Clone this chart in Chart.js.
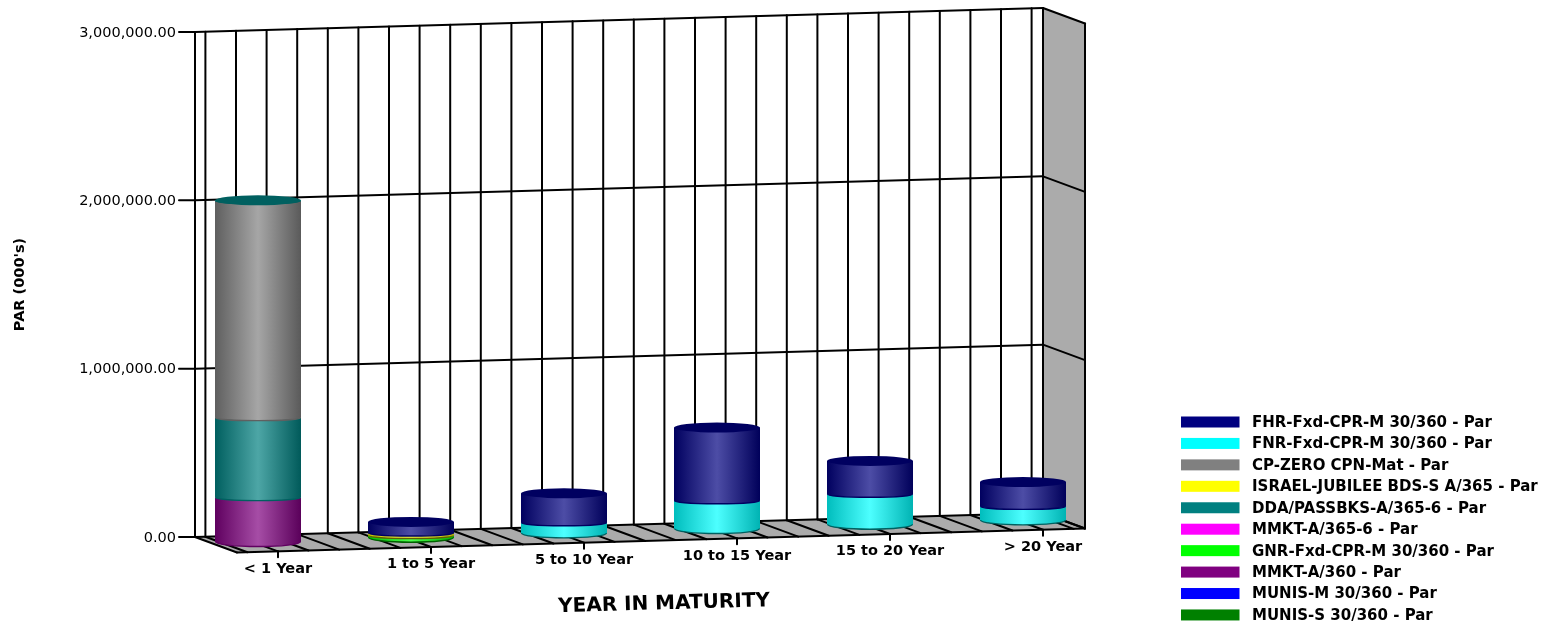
<!DOCTYPE html>
<html>
<head>
<meta charset="utf-8">
<title>PAR by year in maturity</title>
<script src="https://cdn.jsdelivr.net/npm/chart.js@4/dist/chart.umd.min.js"></script>
<style>
    html, body { margin: 0; padding: 0; background: #fff; }
    canvas { display: block; }
</style>
</head>
<body>
<canvas id="parChart" width="1541" height="625"></canvas>
<script>
    // data, stacked bottom to top (the legend lists them the other way round)
    const categories = ["< 1 Year", "1 to 5 Year", "5 to 10 Year", "10 to 15 Year", "15 to 20 Year", "> 20 Year"];
    const seriesNames = [
        "MUNIS-S 30/360 - Par", "MUNIS-M 30/360 - Par", "MMKT-A/360 - Par", "GNR-Fxd-CPR-M 30/360 - Par",
        "MMKT-A/365-6 - Par", "DDA/PASSBKS-A/365-6 - Par", "ISRAEL-JUBILEE BDS-S A/365 - Par",
        "CP-ZERO CPN-Mat - Par", "FNR-Fxd-CPR-M 30/360 - Par", "FHR-Fxd-CPR-M 30/360 - Par"
    ];
    const seriesColors = ["#008000", "#0000FF", "#800080", "#00FF00", "#FF00FF", "#008080", "#FFFF00", "#808080", "#00FFFF", "#000080"];
    const munisS = [0, 0, 0, 0, 0, 0];
    const munisM = [0, 0, 0, 0, 0, 0];
    const mmkt360 = [261000, 0, 0, 0, 0, 0];
    const gnr = [0, 10000, 0, 0, 0, 0];
    const mmkt365 = [0, 0, 0, 0, 0, 0];
    const dda = [475000, 0, 0, 0, 0, 0];
    const israel = [0, 15000, 0, 0, 0, 0];
    const cpZero = [1289000, 0, 0, 0, 0, 0];
    const fnr = [2000, 0, 60000, 165000, 178000, 80000];
    const fhr = [0, 66000, 175000, 435000, 198000, 145000];
    const seriesValues = [munisS, munisM, mmkt360, gnr, mmkt365, dda, israel, cpZero, fnr, fhr];
    const yTicks = [0, 1000000, 2000000, 3000000];

    const FONT = '"DejaVu Sans", sans-serif';

    // 3d box look: back wall leans up to the right, floor comes forward by depth
    const wallLeft = 195, wallRight = 1043;
    const slope = 24 / 848;
    const depthX = 42, depthY = 15.5;
    const midX = 22, midY = 5.7;

    function wallY(x, y) {
        return y - (x - wallLeft) * slope;
    }

    function shade(hex, f, white) {
        let c = [1, 3, 5].map(i => parseInt(hex.substr(i, 2), 16));
        c = c.map(v => Math.round(v * f + (255 - v * f) * white));
        return `rgb(${c[0]},${c[1]},${c[2]})`;
    }

    function topColor(hex) {
        let c = [1, 3, 5].map(i => parseInt(hex.substr(i, 2), 16));
        let k = 96 / Math.max(...c);
        return `rgb(${c.map(v => Math.round(v * k)).join(",")})`;
    }

    function line(ctx, x1, y1, x2, y2) {
        ctx.beginPath();
        ctx.moveTo(x1, y1);
        ctx.lineTo(x2, y2);
        ctx.stroke();
    }

    function drawCylinder(ctx, cx, yTop, yBase, rx, color, isLowest, isHighest) {
        const ry = 5;
        const baseRy = isLowest ? ry : 3;   // seams inside a stack look flatter
        let grad = ctx.createLinearGradient(cx - rx, 0, cx + rx, 0);
        grad.addColorStop(0, shade(color, 0.74, 0));
        grad.addColorStop(0.5, shade(color, 1, 0.3));
        grad.addColorStop(1, shade(color, 0.7, 0));

        ctx.beginPath();
        ctx.moveTo(cx - rx, yTop);
        ctx.lineTo(cx + rx, yTop);
        ctx.lineTo(cx + rx, yBase);
        ctx.ellipse(cx, yBase, rx, baseRy, 0, 0, Math.PI);
        ctx.closePath();
        ctx.fillStyle = grad;
        ctx.fill();

        ctx.beginPath();
        ctx.ellipse(cx, yBase, rx - 0.5, baseRy, 0, 0, Math.PI);
        ctx.strokeStyle = topColor(color);
        ctx.lineWidth = 1.4;
        ctx.stroke();

        if (isHighest) {
            ctx.beginPath();
            ctx.ellipse(cx, yTop, rx, ry, 0, 0, Math.PI * 2);
            ctx.fillStyle = topColor(color);
            ctx.fill();
        }
    }

    const box3d = {
        id: "box3d",
        // the flat bars are replaced by cylinders in afterDatasetsDraw
        beforeDatasetDraw() {
            return false;
        },
        beforeDatasetsDraw(chart) {
            const ctx = chart.ctx;
            const xs = chart.scales.x, ys = chart.scales.y;
            const y0 = ys.getPixelForValue(0), yMax = ys.getPixelForValue(yTicks[yTicks.length - 1]);
            ctx.save();

            // side wall and floor
            ctx.fillStyle = "#ababab";
            ctx.beginPath();
            ctx.moveTo(wallRight, wallY(wallRight, yMax));
            ctx.lineTo(wallRight + depthX, wallY(wallRight, yMax) + depthY);
            ctx.lineTo(wallRight + depthX, wallY(wallRight, y0) + depthY);
            ctx.lineTo(wallRight, wallY(wallRight, y0));
            ctx.closePath();
            ctx.fill();
            ctx.beginPath();
            ctx.moveTo(wallLeft, y0);
            ctx.lineTo(wallRight, wallY(wallRight, y0));
            ctx.lineTo(wallRight + depthX, wallY(wallRight, y0) + depthY);
            ctx.lineTo(wallLeft + depthX, y0 + depthY);
            ctx.closePath();
            ctx.fill();

            ctx.strokeStyle = "#000";
            ctx.lineWidth = 2;
            ctx.lineCap = "round";

            // vertical grid, five steps for each category
            let step = (xs.getPixelForTick(1) - xs.getPixelForTick(0)) / 5;
            let gridXs = [wallLeft, wallRight];
            for (let x = xs.left - step; x < xs.right + step * 1.5; x += step) {
                gridXs.push(x);
            }
            gridXs.forEach(x => {
                line(ctx, x, wallY(x, y0), x, wallY(x, yMax));
                line(ctx, x, wallY(x, y0), x + depthX, wallY(x, y0) + depthY);
            });

            // horizontal grid, across the back and down the side, with the tick marks
            yTicks.forEach(v => {
                let y = ys.getPixelForValue(v);
                line(ctx, wallLeft, y, wallRight, wallY(wallRight, y));
                line(ctx, wallRight, wallY(wallRight, y), wallRight + depthX, wallY(wallRight, y) + depthY);
                line(ctx, wallLeft - 16, y, wallLeft, y);
            });
            line(ctx, wallLeft + depthX, y0 + depthY, wallRight + depthX, wallY(wallRight, y0) + depthY);
            line(ctx, wallRight + depthX, wallY(wallRight, yMax) + depthY, wallRight + depthX, wallY(wallRight, y0) + depthY);

            // category ticks and labels on the front edge
            ctx.fillStyle = "#000";
            ctx.font = "bold 14.5px " + FONT;
            ctx.textAlign = "center";
            ctx.textBaseline = "middle";
            categories.forEach((label, i) => {
                let x = xs.getPixelForTick(i) + depthX;
                let y = wallY(x - depthX, y0) + depthY;
                line(ctx, x, y, x, y + 6);
                ctx.fillText(label, x, y + 17.5);
            });

            ctx.translate(664, 604);
            ctx.rotate(-1.6 * Math.PI / 180);
            ctx.font = "bold 20px " + FONT;
            ctx.fillText("YEAR IN MATURITY", 0, 0);
            ctx.restore();
        },
        afterDatasetsDraw(chart) {
            const ctx = chart.ctx;
            ctx.save();
            categories.forEach((c, i) => {
                let used = seriesValues.map((values, s) => s).filter(s => seriesValues[s][i]);
                used.forEach((s, n) => {
                    let bar = chart.getDatasetMeta(s).data[i];
                    drawCylinder(ctx, bar.x + midX, wallY(bar.x, bar.y) + midY, wallY(bar.x, bar.base) + midY,
                        bar.width / 2, seriesColors[s], n === 0, n === used.length - 1);
                });
            });
            ctx.restore();
        },
        afterDraw(chart) {
            // legend column at the lower right
            const ctx = chart.ctx;
            ctx.save();
            ctx.font = "bold 15px " + FONT;
            ctx.textAlign = "left";
            ctx.textBaseline = "middle";
            chart.data.datasets.slice().reverse().forEach((ds, i) => {
                let y = 422 + i * 21.44;
                ctx.fillStyle = ds.backgroundColor;
                ctx.fillRect(1181, y - 5.5, 58.5, 11);
                ctx.fillStyle = "#000";
                ctx.fillText(ds.label, 1252, y + 1);
            });
            ctx.restore();
        }
    };

    new Chart(document.getElementById("parChart"), {
        type: "bar",
        data: {
            labels: categories,
            datasets: seriesNames.map((name, i) => ({
                label: name,
                data: seriesValues[i],
                backgroundColor: seriesColors[i],
                barThickness: 86
            }))
        },
        options: {
            responsive: false,
            animation: false,
            layout: { padding: { top: 32, right: 540, left: 0, bottom: 0 } },
            plugins: {
                legend: { display: false },
                tooltip: { enabled: false }
            },
            scales: {
                x: {
                    stacked: true,
                    offset: false,
                    grid: { display: false, drawTicks: false },
                    border: { display: false },
                    ticks: { display: false },
                    afterFit: scale => { scale.height = 88; }
                },
                y: {
                    stacked: true,
                    min: 0,
                    max: 3000000,
                    afterBuildTicks: scale => { scale.ticks = yTicks.map(v => ({ value: v })); },
                    grid: { display: false, drawTicks: false },
                    border: { display: false },
                    ticks: {
                        color: "#000",
                        padding: 60,
                        labelOffset: 1,
                        font: { family: FONT, size: 14.5 },
                        callback: v => v.toLocaleString("en-US", { minimumFractionDigits: 2, maximumFractionDigits: 2 })
                    },
                    title: {
                        display: true,
                        text: "PAR (000's)",
                        color: "#000",
                        font: { family: FONT, size: 14.5, weight: "bold" },
                        padding: { top: 12, bottom: 0 }
                    },
                    // tick padding would otherwise push the plot area down from the top
                    afterFit: scale => {
                        scale.width = 236;
                        scale.paddingTop = 0;
                        scale.paddingBottom = 0;
                    }
                }
            }
        },
        plugins: [box3d]
    });
</script>
</body>
</html>
